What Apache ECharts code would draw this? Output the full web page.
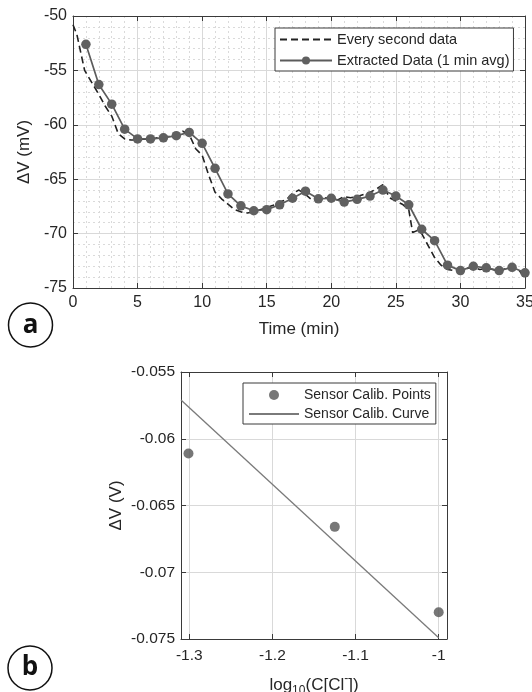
<!DOCTYPE html>
<html>
<head>
<meta charset="utf-8">
<script src="https://cdn.jsdelivr.net/npm/echarts@6.0.0/dist/echarts.min.js"></script>
<style>
  html, body { margin: 0; padding: 0; background: #fff; }
  #chartmain { width: 532px; height: 692px; }
</style>
</head>
<body>
<div id="chartmain"></div>
<script>
// (a) raw signal (time in min, mV)
var everySecT = [0, 0.3, 0.9, 1.5, 2, 2.5, 3, 3.5, 4, 4.5, 5, 5.5, 6, 6.5, 7, 7.5, 8, 8.5, 9, 9.5,
  10, 10.5, 11, 11.5, 12, 12.5, 13, 13.5, 14, 14.5, 15, 15.5, 16, 16.5, 17, 17.5, 18, 18.5, 19, 19.5,
  20, 20.5, 21, 21.5, 22, 22.5, 23, 23.5, 24, 24.5, 25, 25.5, 26, 26.3, 26.7, 27, 27.5, 28, 28.5, 29,
  29.5, 30, 30.5, 31, 31.5, 32, 32.5, 33, 33.5, 34, 34.5, 35];
var everySecV = [-50.8, -51.7, -55.0, -56.2, -57.2, -58.3, -59.2, -60.8, -61.3, -61.4, -61.4, -61.3, -61.4, -61.2, -61.2, -61.0, -60.9, -60.6, -60.9, -62.2,
  -62.8, -64.6, -66.2, -66.8, -67.3, -67.8, -68.0, -68.1, -68.0, -67.8, -67.6, -67.4, -67.1, -66.9, -66.3, -66.0, -66.4, -66.9, -66.8, -66.7,
  -66.8, -66.9, -66.6, -66.7, -66.6, -66.4, -66.2, -65.9, -65.5, -66.7, -67.0, -67.3, -67.8, -69.9, -69.7, -70.0, -71.1, -72.2, -72.9, -73.3,
  -73.4, -73.4, -73.2, -73.1, -73.3, -73.2, -73.3, -73.5, -73.2, -73.1, -73.3, -74.1];

// (a) 1 min averages
var avgT = [1, 2, 3, 4, 5, 6, 7, 8, 9, 10, 11, 12, 13, 14, 15, 16, 17, 18, 19, 20,
  21, 22, 23, 24, 25, 26, 27, 28, 29, 30, 31, 32, 33, 34, 35];
var avgV = [-52.6, -56.3, -58.1, -60.4, -61.3, -61.3, -61.2, -61.0, -60.7, -61.7, -64.0, -66.35, -67.45, -67.9, -67.8, -67.35, -66.75, -66.1, -66.8, -66.75,
  -67.1, -66.85, -66.55, -66.0, -66.55, -67.35, -69.6, -70.65, -72.9, -73.4, -73.0, -73.15, -73.4, -73.1, -73.6];

// (b) calibration
var calibX = [-1.301, -1.125, -1];
var calibY = [-0.0611, -0.0666, -0.0730];
var curveX = [-1.31, -1];
var curveY = [-0.0571, -0.0749];
var xTicksB = [-1.3, -1.2, -1.1, -1];

function pairs(xs, ys) {
  var out = [];
  for (var i = 0; i < xs.length; i++) out.push([xs[i], ys[i]]);
  return out;
}

var FONT = 'Liberation Sans';
var txt = '#262626';
var frame = '#3a3a3a';

var tickIn = { show: true, inside: true, length: 5, lineStyle: { color: frame } };
var lineFrame = { show: true, onZero: false, lineStyle: { color: frame, width: 1 } };
var noDot = { opacity: 0 }; // line-only legend entries

var option = {
  animation: false,
  backgroundColor: '#fff',
  textStyle: { fontFamily: FONT },
  grid: [
    { left: 73, right: 7, top: 16, bottom: 404, containLabel: false, outerBoundsMode: 'none' },
    { left: 181, right: 85, top: 372, bottom: 53, containLabel: false, outerBoundsMode: 'none' }
  ],
  legend: [{
    data: [{ name: 'Every second data', itemStyle: noDot }, 'Extracted Data (1 min avg)'],
    orient: 'vertical', left: 275, top: 28,
    backgroundColor: '#fff', borderColor: frame, borderWidth: 1, borderRadius: 0,
    padding: [4, 4, 3, 4], itemWidth: 52, itemHeight: 10, itemGap: 6,
    textStyle: { fontFamily: FONT, fontSize: 14.5, color: txt }
  }, {
    data: ['Sensor Calib. Points', { name: 'Sensor Calib. Curve', itemStyle: noDot }],
    orient: 'vertical', left: 243, top: 383,
    backgroundColor: '#fff', borderColor: frame, borderWidth: 1, borderRadius: 0,
    padding: [5, 5, 3, 5], itemWidth: 50, itemHeight: 10, itemGap: 5,
    textStyle: { fontFamily: FONT, fontSize: 14, color: txt }
  }],
  xAxis: [{
    gridIndex: 0, type: 'value', min: 0, max: 35, interval: 5,
    name: 'Time (min)', nameLocation: 'middle', nameGap: 33,
    nameTextStyle: { fontFamily: FONT, fontSize: 17, color: txt },
    axisLine: lineFrame, axisTick: tickIn,
    axisLabel: { margin: 7, fontFamily: FONT, fontSize: 16, color: txt },
    splitLine: { show: true, lineStyle: { color: '#d9d9d9', width: 1 } },
    minorTick: { show: false, splitNumber: 5 },
    minorSplitLine: { show: true, lineStyle: { color: '#dadada', type: [2, 3], width: 1 } }
  }, {
    gridIndex: 0, type: 'value', min: 0, max: 35, interval: 5, position: 'top',
    axisLine: lineFrame, axisTick: tickIn, axisLabel: { show: false }, splitLine: { show: false }
  }, {
    gridIndex: 1, type: 'value', min: -1.31, max: -0.99,
    name: '{n|log}{s|10}{n|(C[Cl}{p|-}{n|])}', nameLocation: 'middle', nameGap: 34,
    nameTextStyle: {
      fontFamily: FONT, fontSize: 17, color: txt,
      rich: {
        n: { fontFamily: FONT, fontSize: 17, color: txt },
        s: { fontFamily: FONT, fontSize: 12, color: txt, verticalAlign: 'bottom', padding: [12, 0, 0, 0] },
        p: { fontFamily: FONT, fontSize: 12, color: txt, verticalAlign: 'top', padding: [0, 0, 9, 0] }
      }
    },
    axisLine: lineFrame,
    axisTick: { show: true, inside: true, length: 5, lineStyle: { color: frame }, customValues: xTicksB },
    axisLabel: { margin: 9, fontFamily: FONT, fontSize: 15.5, color: txt, customValues: xTicksB },
    splitLine: { show: true, lineStyle: { color: '#d9d9d9', width: 1 } }
  }, {
    gridIndex: 1, type: 'value', min: -1.31, max: -0.99, position: 'top',
    axisLine: lineFrame,
    axisTick: { show: true, inside: true, length: 5, lineStyle: { color: frame }, customValues: xTicksB },
    axisLabel: { show: false, customValues: xTicksB }, splitLine: { show: false }
  }],
  yAxis: [{
    gridIndex: 0, type: 'value', min: -75, max: -50, interval: 5,
    name: 'ΔV (mV)', nameLocation: 'middle', nameGap: 35,
    nameTextStyle: { fontFamily: FONT, fontSize: 17, color: txt },
    axisLine: lineFrame, axisTick: tickIn,
    axisLabel: { margin: 6, fontFamily: FONT, fontSize: 16, color: txt },
    splitLine: { show: true, lineStyle: { color: '#d9d9d9', width: 1 } },
    minorTick: { show: false, splitNumber: 5 },
    minorSplitLine: { show: true, lineStyle: { color: '#dadada', type: [2, 3], width: 1 } }
  }, {
    gridIndex: 0, type: 'value', min: -75, max: -50, interval: 5, position: 'right',
    axisLine: lineFrame, axisTick: tickIn, axisLabel: { show: false }, splitLine: { show: false }
  }, {
    gridIndex: 1, type: 'value', min: -0.075, max: -0.055, interval: 0.005,
    name: 'ΔV (V)', nameLocation: 'middle', nameGap: 56,
    nameTextStyle: { fontFamily: FONT, fontSize: 17, color: txt },
    axisLine: lineFrame, axisTick: tickIn,
    axisLabel: { margin: 6, fontFamily: FONT, fontSize: 15.5, color: txt },
    splitLine: { show: true, lineStyle: { color: '#d9d9d9', width: 1 } }
  }, {
    gridIndex: 1, type: 'value', min: -0.075, max: -0.055, interval: 0.005, position: 'right',
    axisLine: lineFrame, axisTick: tickIn, axisLabel: { show: false }, splitLine: { show: false }
  }],
  series: [{
    name: 'Every second data', type: 'line', xAxisIndex: 0, yAxisIndex: 0,
    data: pairs(everySecT, everySecV), symbol: 'none',
    lineStyle: { color: '#222222', width: 1.6, type: [7, 4] },
    itemStyle: { color: '#222222' }, z: 3
  }, {
    name: 'Extracted Data (1 min avg)', type: 'line', xAxisIndex: 0, yAxisIndex: 0,
    data: pairs(avgT, avgV), symbol: 'circle', symbolSize: 9.5, clip: false,
    lineStyle: { color: '#5c5c5c', width: 1.7 },
    itemStyle: { color: '#606060', borderWidth: 0 }, z: 4
  }, {
    name: 'Sensor Calib. Points', type: 'scatter', xAxisIndex: 2, yAxisIndex: 2,
    data: pairs(calibX, calibY), symbol: 'circle', symbolSize: 10,
    itemStyle: { color: '#555555' }, z: 4
  }, {
    name: 'Sensor Calib. Curve', type: 'line', xAxisIndex: 2, yAxisIndex: 2,
    data: pairs(curveX, curveY), symbol: 'none',
    lineStyle: { color: '#7a7a7a', width: 1.3 }, itemStyle: { color: '#7a7a7a' }, z: 3
  }],
  graphic: [
    { type: 'circle', shape: { cx: 30.5, cy: 325, r: 22 }, style: { fill: 'none', stroke: '#111', lineWidth: 1.5 } },
    { type: 'text', x: 30.5, y: 326, style: { text: 'a', fontFamily: 'Open Sans', fontWeight: 'bold', fontSize: 26, fill: '#111', align: 'center', verticalAlign: 'middle' } },
    { type: 'circle', shape: { cx: 30, cy: 668, r: 22 }, style: { fill: 'none', stroke: '#111', lineWidth: 1.5 } },
    { type: 'text', x: 30, y: 668, style: { text: 'b', fontFamily: 'Open Sans', fontWeight: 'bold', fontSize: 26, fill: '#111', align: 'center', verticalAlign: 'middle' } }
  ]
};

var myChart = echarts.init(document.getElementById('chartmain'));
myChart.setOption(option);
</script>
</body>
</html>
